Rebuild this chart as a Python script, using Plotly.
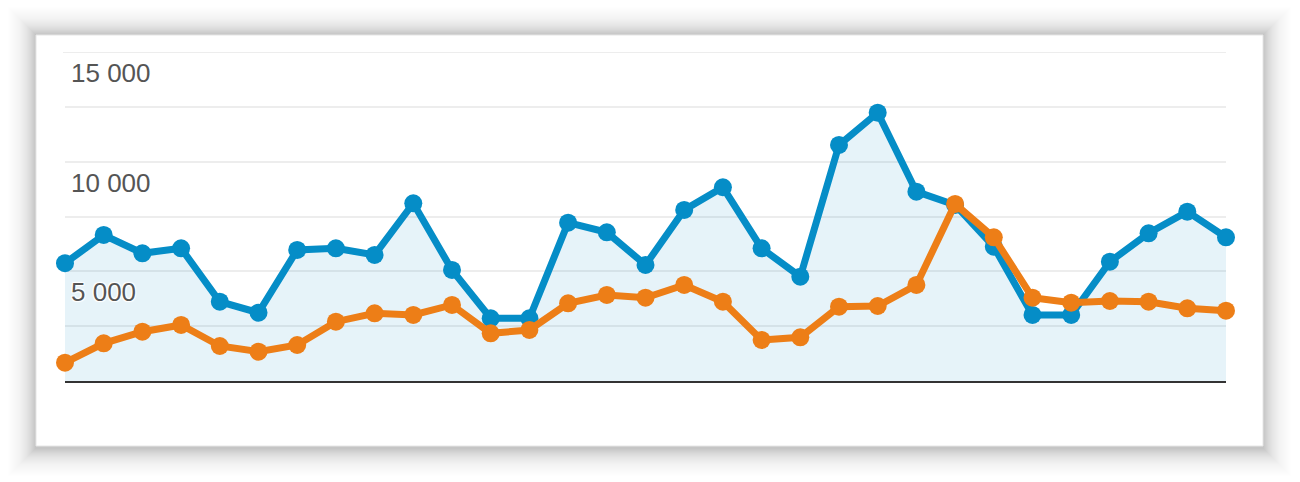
import plotly.graph_objects as go

# ---- data ----
days = list(range(31))
sessions = [5370, 6658, 5823, 6051, 3616, 3114, 5974, 6051, 5746, 8103,
            5062, 2859, 2859, 7218, 6781, 5290, 7798, 8833, 6051, 4756,
            10762, 12234, 8632, 8026, 6124, 3010, 3010, 5440, 6735, 7720, 6553]
users = [834, 1719, 2248, 2554, 1596, 1336, 1642, 2704, 3087, 3010,
         3466, 2175, 2326, 3543, 3922, 3798, 4378, 3616, 1870, 1993,
         3388, 3420, 4378, 8071, 6553, 3798, 3570, 3648, 3616, 3315, 3206]
tick_values = [15000, 10000, 5000]
tick_labels = ["15 000", "10 000", "5 000"]

BLUE = "#058dc7"
ORANGE = "#ed7e17"

W, H = 1300, 482
PL, PR, PT, PB = 65, 1226, 52, 381  # plot area in pixels


def px_x(px):
    return (px - PL) / (PR - PL)


def px_y(py):
    return (PB - py) / (PB - PT)


fig = go.Figure()

fig.add_trace(go.Scatter(
    x=days, y=sessions, mode="lines+markers",
    line=dict(color=BLUE, width=7),
    marker=dict(color=BLUE, size=18),
    fill="tozeroy", fillcolor="rgba(5,141,199,0.10)",
    cliponaxis=False, showlegend=False, hoverinfo="skip",
))
fig.add_trace(go.Scatter(
    x=days, y=users, mode="lines+markers",
    line=dict(color=ORANGE, width=7),
    marker=dict(color=ORANGE, size=18),
    cliponaxis=False, showlegend=False, hoverinfo="skip",
))

# card with soft shadow
shapes = []
cx0, cy0, cx1, cy1 = 36, 35, 1263, 446
N = 28
for i in range(N, 0, -1):
    d = i
    shapes.append(dict(
        type="rect", xref="paper", yref="paper", layer="below",
        x0=px_x(cx0 - d), x1=px_x(cx1 + d),
        y0=px_y(cy1 + d + 2), y1=px_y(cy0 - d),
        fillcolor="rgba(0,0,0,%.4f)" % (0.003 + 0.016 * (1 - i / N) ** 2),
        line=dict(width=0),
    ))
shapes.append(dict(
    type="rect", xref="paper", yref="paper", layer="below",
    x0=px_x(cx0), x1=px_x(cx1), y0=px_y(cy1), y1=px_y(cy0),
    fillcolor="white", line=dict(color="#e6e6e6", width=1),
))
# top grid line at 15 000
shapes.append(dict(
    type="line", xref="paper", yref="y", layer="below",
    x0=px_x(63), x1=1, y0=15000, y1=15000,
    line=dict(color="#ededed", width=2),
))
fig.update_layout(shapes=shapes)

annotations = []
for v, t in zip(tick_values, tick_labels):
    annotations.append(dict(
        x=0, xref="paper", xanchor="left", xshift=4,
        y=v, yref="y", yanchor="middle", yshift=-21,
        text=t, showarrow=False,
        font=dict(family="Liberation Sans, Arial, sans-serif", size=26, color="#555555",
                  shadow="1px 1px 1px white, -1px -1px 1px white, 1px -1px 1px white, -1px 1px 1px white"),
    ))
fig.update_layout(annotations=annotations)

fig.update_xaxes(range=[0, 30], showgrid=False, zeroline=False,
                 showticklabels=False, ticks="",
                 showline=True, linecolor="#333333", linewidth=2)
fig.update_yaxes(range=[0, 15000], dtick=2500, showgrid=True,
                 gridcolor="#ededed", gridwidth=2, zeroline=False,
                 showticklabels=False, ticks="")

fig.update_layout(
    width=W, height=H,
    margin=dict(l=PL, r=W - PR, t=PT, b=H - PB),
    paper_bgcolor="white", plot_bgcolor="rgba(0,0,0,0)",
)

fig.write_html("out.html", config={"displayModeBar": False},
               post_script="document.body.style.margin='0';document.body.style.overflow='hidden';")
